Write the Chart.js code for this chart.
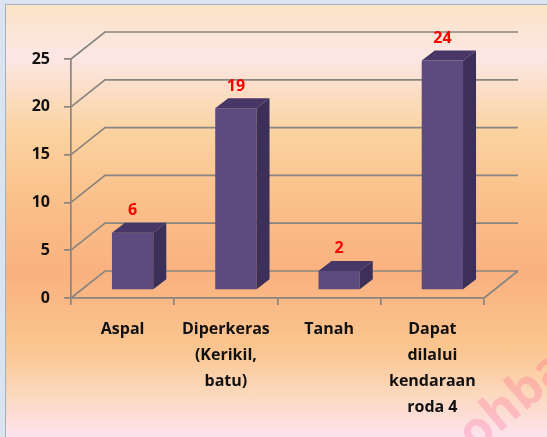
<!DOCTYPE html>
<html>
<head>
<meta charset="utf-8">
<script src="https://cdn.jsdelivr.net/npm/chart.js@4.4.0/dist/chart.umd.min.js"></script>
<style>
html, body { margin: 0; padding: 0; }
body { width: 547px; height: 437px; background: #dae4f0; position: relative; overflow: hidden; }
#bg {
    position: absolute; left: 5px; top: 4px; right: 0; bottom: 0;
    border-left: 1px solid #a7b1bc; border-top: 1px solid #a7b1bc;
    background: linear-gradient(to bottom, #fbe3c6 0%, #fce7e5 12%, #fbd29e 30%, #fac08b 45%, #f9b17f 62%, #fac690 80%, #fcd8bd 90%, #fde3ef 100%);
}
#wrap { position: absolute; left: 0; top: 0; width: 547px; height: 437px; }
</style>
</head>
<body>
<div id="bg"></div>
<div id="wrap"><canvas id="chart" width="547" height="437"></canvas></div>
<script>
// data
const categories = ['Aspal', ['Diperkeras', '(Kerikil,', 'batu)'], 'Tanah', ['Dapat', 'dilalui', 'kendaraan', 'roda 4']];
const counts = [6, 19, 2, 24];
const yTicks = [0, 5, 10, 15, 20, 25];

const lineColor = '#8a8580';
const frontColor = '#5d4a7f';
const topColor = '#463767';
const sideColor = '#3c2f59';
const font = { family: '"Open Sans", sans-serif', size: 16, weight: 'bold' };

// 3D offsets
const DEPTH_X = 34, DEPTH_Y = -27;
const BAR_SHIFT_X = 10, BAR_SHIFT_Y = -8;
const BOX_X = 13, BOX_Y = -10;

const threeD = {
    id: 'threeD',
    beforeDatasetsDraw(chart) {
        const { ctx, chartArea: a, scales: { y } } = chart;
        ctx.save();
        ctx.strokeStyle = lineColor;
        ctx.lineWidth = 1.7;
        ctx.beginPath();
        yTicks.forEach(v => {
            const py = y.getPixelForValue(v);
            ctx.moveTo(a.left, py);
            ctx.lineTo(a.left + DEPTH_X, py + DEPTH_Y);
            ctx.lineTo(a.right + DEPTH_X, py + DEPTH_Y);
        });
        // floor right edge
        ctx.moveTo(a.right, a.bottom);
        ctx.lineTo(a.right + DEPTH_X, a.bottom + DEPTH_Y);
        ctx.stroke();
        ctx.restore();
        // bars stand a bit back on the floor
        ctx.save();
        ctx.translate(BAR_SHIFT_X, BAR_SHIFT_Y);
    },
    afterDatasetsDraw(chart) {
        const { ctx } = chart;
        chart.getDatasetMeta(0).data.forEach((bar, i) => {
            const { x, y, base, width } = bar.getProps(['x', 'y', 'base', 'width'], true);
            const l = x - width / 2, r = x + width / 2;
            ctx.fillStyle = topColor;
            ctx.beginPath();
            ctx.moveTo(l, y);
            ctx.lineTo(l + BOX_X, y + BOX_Y);
            ctx.lineTo(r + BOX_X, y + BOX_Y);
            ctx.lineTo(r, y);
            ctx.closePath();
            ctx.fill();
            ctx.fillStyle = sideColor;
            ctx.beginPath();
            ctx.moveTo(r, y);
            ctx.lineTo(r + BOX_X, y + BOX_Y);
            ctx.lineTo(r + BOX_X, base + BOX_Y);
            ctx.lineTo(r, base);
            ctx.closePath();
            ctx.fill();
            // value label
            ctx.fillStyle = '#ff0000';
            ctx.font = 'bold 16px "Open Sans", sans-serif';
            ctx.textAlign = 'center';
            ctx.textBaseline = 'middle';
            ctx.fillText(String(counts[i]), x, y + BOX_Y - 12);
        });
        ctx.restore();
    },
    afterDraw(chart) {
        // watermark
        const { ctx } = chart;
        ctx.save();
        ctx.translate(514, 402);
        ctx.rotate(-40 * Math.PI / 180);
        ctx.font = 'bold 50px "Open Sans", sans-serif';
        ctx.fillStyle = 'rgba(255, 70, 130, 0.22)';
        ctx.textAlign = 'center';
        ctx.textBaseline = 'middle';
        ctx.fillText('ohba', 0, 0);
        ctx.restore();
    }
};

new Chart(document.getElementById('chart'), {
    type: 'bar',
    data: {
        labels: categories,
        datasets: [{
            data: counts,
            backgroundColor: frontColor,
            borderWidth: 0,
            barPercentage: 0.4,
            categoryPercentage: 1
        }]
    },
    options: {
        responsive: false,
        animation: false,
        layout: { padding: { top: 59, right: 63, left: 0, bottom: 0 } },
        plugins: { legend: { display: false }, tooltip: { enabled: false } },
        scales: {
            x: {
                offset: true,
                grid: { display: true, drawOnChartArea: false, drawTicks: true, tickLength: 7, color: lineColor, lineWidth: 1.7, offset: true },
                border: { display: true, color: lineColor, width: 1.7 },
                ticks: { padding: 11, color: '#111', font: { ...font, lineHeight: 1.625 }, maxRotation: 0, autoSkip: false },
                afterFit: s => { s.height = 139; }
            },
            y: {
                min: 0,
                max: 25,
                grid: { display: true, drawOnChartArea: false, drawTicks: true, tickLength: 7, color: lineColor, lineWidth: 1.7 },
                border: { display: true, color: lineColor, width: 1.7 },
                ticks: { stepSize: 5, padding: 14, color: '#111', font: font },
                afterFit: s => { s.width = 71; }
            }
        }
    },
    plugins: [threeD]
});
</script>
</body>
</html>
